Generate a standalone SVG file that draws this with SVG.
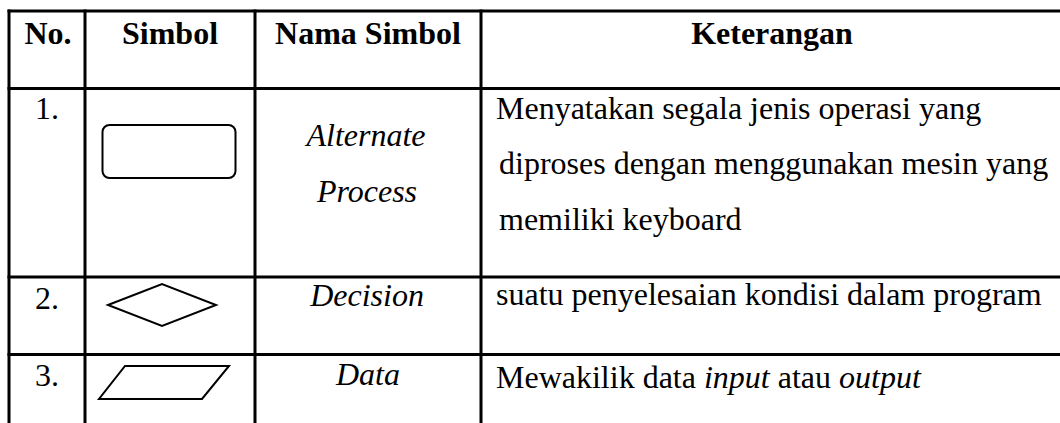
<svg xmlns="http://www.w3.org/2000/svg" width="1060" height="423" viewBox="0 0 1060 423">
  <style>
    .grid { stroke: #000; stroke-width: 3; fill: none; }
    .sym { stroke: #000; stroke-width: 2; fill: #fff; }
    text { font-family: 'Liberation Serif', Tinos, 'Noto Serif', 'DejaVu Serif', serif; font-size: 32px; fill: #000; }
    .hd { font-weight: bold; text-anchor: middle; }
    .it { font-style: italic; text-anchor: middle; }
  </style>
  <rect width="1060" height="423" fill="#fff"/>

  <!-- table grid -->
  <g id="grid" class="grid">
    <line x1="7.5" y1="11" x2="1060" y2="11"/>
    <line x1="7.5" y1="88.5" x2="1060" y2="88.5"/>
    <line x1="7.5" y1="277" x2="1060" y2="277"/>
    <line x1="7.5" y1="354.5" x2="1060" y2="354.5"/>
    <line x1="9" y1="9.5" x2="9" y2="423"/>
    <line x1="85" y1="9.5" x2="85" y2="423"/>
    <line x1="255" y1="9.5" x2="255" y2="423"/>
    <line x1="481" y1="9.5" x2="481" y2="423"/>
  </g>

  <!-- header row -->
  <g id="header">
    <text class="hd" x="48" y="44">No.</text>
    <text class="hd" x="170" y="44">Simbol</text>
    <text class="hd" x="368" y="44">Nama Simbol</text>
    <text class="hd" x="772" y="44">Keterangan</text>
  </g>

  <!-- row 1: alternate process -->
  <g id="row-alternate-process">
    <text x="35" y="119">1.</text>
    <rect class="sym" x="102.5" y="125" width="133" height="53" rx="7"/>
    <text class="it" x="366" y="146">Alternate</text>
    <text class="it" x="367" y="202">Process</text>
    <text x="496" y="119">Menyatakan segala jenis operasi yang</text>
    <text x="499" y="174">diproses dengan menggunakan mesin yang</text>
    <text x="499" y="230">memiliki keyboard</text>
  </g>

  <!-- row 2: decision -->
  <g id="row-decision">
    <text x="35" y="309">2.</text>
    <polygon class="sym" points="108,305 162,284 216,305 162,326"/>
    <text class="it" x="367" y="306">Decision</text>
    <text x="496" y="305">suatu penyelesaian kondisi dalam program</text>
  </g>

  <!-- row 3: data -->
  <g id="row-data">
    <text x="35" y="386">3.</text>
    <polygon class="sym" points="125,366 229,366 202,399 99,399"/>
    <text class="it" x="368" y="385">Data</text>
    <text x="496" y="388">Mewakilik data <tspan font-style="italic">input</tspan> atau <tspan font-style="italic">output</tspan></text>
  </g>
</svg>
